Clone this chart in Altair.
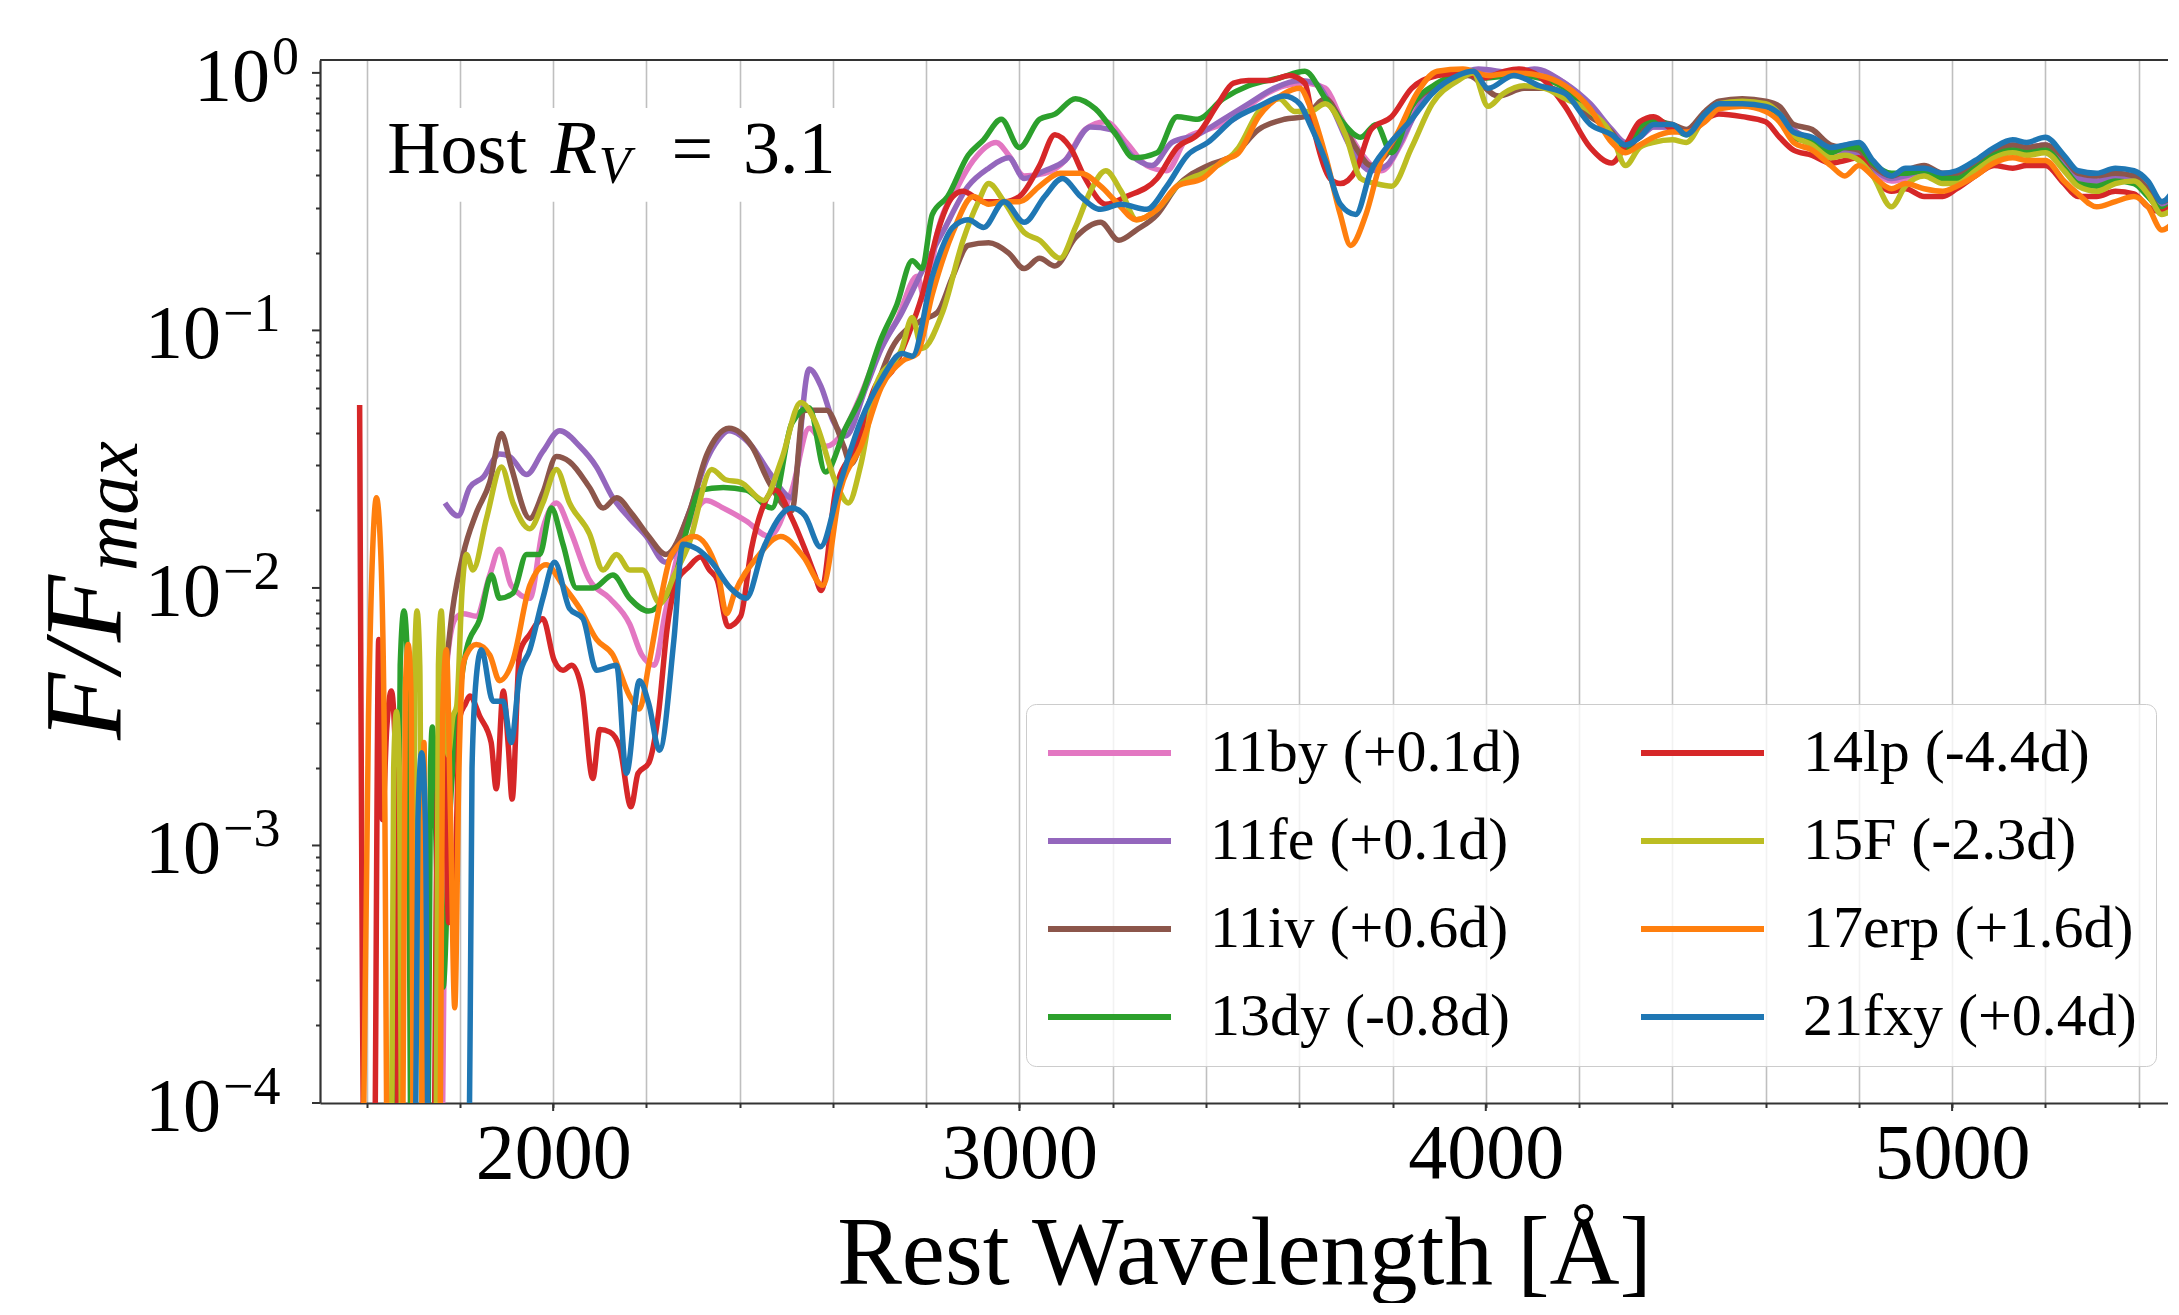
import altair as alt
import pandas as pd

FONT = "Liberation Serif"
SPINE = "#333333"
GRID = "#bfbfbf"

PLOT_W = 1848
PLOT_H = 1043
X_DOMAIN = [1500, 5463]
Y_DOMAIN = [1e-4, 1.122]

# ---------------- legend / series ----------------
# legend fills column by column: first four in the left column
LEGEND_ORDER = ["11by (+0.1d)", "11fe (+0.1d)", "11iv (+0.6d)", "13dy (-0.8d)",
                "14lp (-4.4d)", "15F (-2.3d)", "17erp (+1.6d)", "21fxy (+0.4d)"]
LEGEND_COLORS = ["#e377c2", "#9467bd", "#8c564b", "#2ca02c",
                 "#d62728", "#bcbd22", "#ff7f0e", "#1f77b4"]
DRAW_ORDER = ["11by (+0.1d)", "11fe (+0.1d)", "11iv (+0.6d)", "13dy (-0.8d)",
              "14lp (-4.4d)", "15F (-2.3d)", "17erp (+1.6d)", "21fxy (+0.4d)"]

# ---------------- spectra: [wavelength, log10(F/Fmax)] ----------------
PINK_HEAD = [[1760,-4.6],[1772,-2.30],[1790,-2.12],[1807,-2.10],[1835,-2.11],[1864,-1.95],[1885,-1.85],
    [1910,-1.99],[1950,-2.04],[1978,-1.77],[2007,-1.67],[2035,-1.77],[2078,-1.97],[2121,-2.04],[2164,-2.14],
    [2190,-2.26],[2217,-2.30],[2240,-2.10],[2266,-1.88],[2300,-1.72],[2328,-1.66],[2365,-1.69],[2414,-1.74],
    [2463,-1.80],[2512,-1.62],[2549,-1.38],[2586,-1.45],[2620,-1.40],[2660,-1.25],[2693,-1.10],[2737,-0.96],
    [2781,-0.79],[2797,-0.88],[2824,-0.62],[2868,-0.44],[2901,-0.34],[2950,-0.27],[2977,-0.32],[3010,-0.40],
    [3054,-0.39],[3098,-0.34],[3141,-0.22],[3185,-0.19],[3229,-0.27],[3273,-0.36],[3316,-0.38],[3360,-0.25],
    [3404,-0.22],[3459,-0.18],[3513,-0.10],[3568,-0.05],[3612,-0.04],[3656,-0.06],[3688,-0.17],[3732,-0.31],
    [3776,-0.38],[3820,-0.27],[3863,-0.10],[3929,-0.03],[3984,0.00],[4060,0.005],[4115,0.0],[4170,-0.04],
    [4224,-0.13]]
PURPLE_HEAD = [[1768,-1.67],[1796,-1.72],[1821,-1.61],[1850,-1.57],[1885,-1.48],[1907,-1.49],[1943,-1.56],
    [1978,-1.47],[2014,-1.39],[2057,-1.45],[2093,-1.53],[2128,-1.65],[2164,-1.73],[2200,-1.80],[2241,-1.90],
    [2291,-1.71],[2330,-1.50],[2352,-1.43],[2377,-1.39],[2426,-1.45],[2463,-1.55],[2512,-1.65],[2549,-1.15],
    [2575,-1.22],[2600,-1.35],[2627,-1.41],[2671,-1.22],[2704,-1.07],[2748,-0.93],[2791,-0.77],[2835,-0.62],
    [2890,-0.44],[2934,-0.37],[2977,-0.33],[3010,-0.41],[3054,-0.38],[3098,-0.34],[3152,-0.21],[3196,-0.22],
    [3240,-0.32],[3284,-0.36],[3327,-0.27],[3382,-0.24],[3437,-0.18],[3491,-0.12],[3546,-0.06],[3601,-0.03],
    [3634,-0.04],[3666,-0.12],[3710,-0.29],[3754,-0.38],[3787,-0.36],[3831,-0.22],[3874,-0.08],[3929,-0.02],
    [3984,0.015],[4060,0.0],[4104,0.015],[4170,-0.04],[4224,-0.12]]
BROWN_HEAD = [[1745,-4.6],[1760,-2.60],[1778,-2.18],[1807,-1.87],[1835,-1.71],[1864,-1.59],[1889,-1.40],
    [1910,-1.53],[1950,-1.73],[1978,-1.63],[2007,-1.49],[2035,-1.51],[2078,-1.61],[2107,-1.69],[2136,-1.65],
    [2168,-1.71],[2205,-1.80],[2242,-1.87],[2291,-1.71],[2330,-1.48],[2352,-1.41],[2377,-1.38],[2426,-1.45],
    [2463,-1.59],[2512,-1.70],[2537,-1.31],[2586,-1.31],[2623,-1.45],[2638,-1.52],[2682,-1.28],[2726,-1.07],
    [2791,-0.96],[2824,-0.93],[2857,-0.79],[2890,-0.67],[2934,-0.66],[2977,-0.70],[3010,-0.76],[3043,-0.72],
    [3076,-0.75],[3120,-0.64],[3174,-0.58],[3213,-0.65],[3251,-0.61],[3295,-0.55],[3338,-0.44],[3404,-0.36],
    [3459,-0.32],[3513,-0.22],[3568,-0.18],[3612,-0.17],[3656,-0.10],[3688,-0.18],[3721,-0.29],[3754,-0.36],
    [3798,-0.29],[3841,-0.13],[3896,-0.05],[3962,-0.01],[4027,-0.09],[4082,-0.06],[4137,-0.06],[4224,-0.17]]
GREEN_HEAD = [[1662,-4.6],[1672,-2.30],[1680,-2.09],[1688,-2.30],[1697,-4.6],[1730,-4.6],[1737,-2.70],
    [1741,-2.54],[1752,-3.20],[1764,-3.55],[1778,-2.90],[1800,-2.40],[1814,-2.24],[1843,-2.12],[1868,-1.95],
    [1885,-2.04],[1914,-2.02],[1943,-1.87],[1971,-1.87],[1996,-1.69],[2021,-1.83],[2050,-2.00],[2086,-2.00],
    [2128,-1.95],[2164,-2.04],[2205,-2.09],[2235,-2.05],[2260,-1.97],[2290,-1.75],[2316,-1.62],[2365,-1.61],
    [2414,-1.62],[2469,-1.69],[2512,-1.36],[2549,-1.30],[2584,-1.55],[2627,-1.38],[2660,-1.26],[2704,-1.03],
    [2737,-0.90],[2770,-0.73],[2791,-0.76],[2813,-0.55],[2846,-0.48],[2890,-0.32],[2923,-0.26],[2961,-0.18],
    [3000,-0.29],[3043,-0.18],[3076,-0.16],[3120,-0.10],[3163,-0.14],[3207,-0.24],[3245,-0.33],[3295,-0.31],
    [3338,-0.17],[3382,-0.18],[3437,-0.10],[3491,-0.05],[3557,-0.02],[3612,0.006],[3656,-0.10],[3688,-0.18],
    [3732,-0.25],[3765,-0.20],[3798,-0.31],[3841,-0.13],[3896,-0.04],[3951,0.0],[3995,-0.02],[4060,-0.01],
    [4115,-0.02],[4170,-0.06],[4224,-0.15]]
RED_HEAD = [[1585,-1.29],[1597,-4.6],[1615,-4.6],[1626,-2.20],[1634,-2.90],[1643,-2.55],[1653,-2.40],
    [1661,-2.60],[1669,-4.6],[1742,-4.6],[1752,-2.80],[1765,-2.50],[1776,-3.30],[1788,-3.20],[1800,-2.50],
    [1812,-2.45],[1821,-2.42],[1843,-2.50],[1867,-2.60],[1878,-2.78],[1893,-2.40],[1904,-2.62],[1912,-2.82],
    [1928,-2.25],[1950,-2.18],[1978,-2.12],[2002,-2.28],[2021,-2.32],[2040,-2.30],[2062,-2.40],[2085,-2.74],
    [2100,-2.55],[2122,-2.56],[2143,-2.62],[2167,-2.85],[2182,-2.72],[2205,-2.68],[2225,-2.50],[2245,-2.15],
    [2266,-1.97],[2290,-1.92],[2316,-1.88],[2335,-1.93],[2352,-1.97],[2375,-2.15],[2402,-2.11],[2425,-1.85],
    [2451,-1.68],[2476,-1.62],[2512,-1.73],[2540,-1.85],[2561,-1.95],[2575,-2.01],[2606,-1.62],[2649,-1.45],
    [2693,-1.21],[2726,-1.16],[2759,-1.03],[2792,-0.86],[2824,-0.62],[2857,-0.48],[2879,-0.46],[2923,-0.50],
    [2967,-0.50],[3000,-0.48],[3043,-0.36],[3076,-0.24],[3109,-0.29],[3141,-0.41],[3185,-0.51],[3229,-0.48],
    [3295,-0.41],[3338,-0.29],[3382,-0.24],[3426,-0.12],[3459,-0.04],[3491,-0.03],[3535,-0.03],[3579,-0.01],
    [3612,-0.04],[3634,-0.24],[3666,-0.41],[3688,-0.43],[3721,-0.38],[3754,-0.22],[3798,-0.17],[3841,-0.06],
    [3896,-0.01],[3951,0.0],[3995,-0.02],[4038,0.005],[4071,0.015],[4126,-0.03],[4170,-0.13],[4224,-0.29]]
OLIVE_HEAD = [[1652,-4.6],[1658,-2.70],[1664,-2.48],[1670,-2.70],[1677,-4.6],[1698,-4.6],[1703,-2.30],
    [1708,-2.09],[1714,-2.30],[1721,-4.6],[1748,-4.6],[1754,-2.30],[1760,-2.09],[1767,-2.40],[1775,-2.65],
    [1785,-2.50],[1793,-2.46],[1805,-2.00],[1814,-1.87],[1828,-1.93],[1857,-1.73],[1889,-1.53],[1914,-1.67],
    [1950,-1.77],[1978,-1.67],[2007,-1.54],[2035,-1.67],[2078,-1.79],[2107,-1.93],[2136,-1.87],[2164,-1.93],
    [2192,-1.93],[2229,-2.06],[2260,-1.95],[2291,-1.83],[2340,-1.54],[2370,-1.58],[2402,-1.59],[2451,-1.66],
    [2490,-1.50],[2531,-1.28],[2561,-1.35],[2606,-1.59],[2633,-1.67],[2660,-1.52],[2693,-1.21],[2748,-1.07],
    [2770,-0.95],[2791,-1.07],[2835,-0.93],[2879,-0.65],[2912,-0.50],[2934,-0.43],[2967,-0.50],[3010,-0.62],
    [3043,-0.65],[3087,-0.72],[3120,-0.60],[3152,-0.46],[3185,-0.38],[3218,-0.46],[3251,-0.57],[3295,-0.53],
    [3338,-0.44],[3404,-0.38],[3470,-0.29],[3513,-0.15],[3557,-0.10],[3590,-0.15],[3623,-0.15],[3656,-0.12],
    [3699,-0.24],[3732,-0.41],[3765,-0.43],[3798,-0.44],[3841,-0.29],[3885,-0.12],[3940,-0.03],[3973,0.0],
    [4005,-0.13],[4038,-0.08],[4082,-0.05],[4126,-0.06],[4170,-0.10],[4224,-0.15]]
ORANGE_HEAD = [[1590,-4.6],[1604,-2.50],[1613,-1.85],[1621,-1.65],[1630,-1.85],[1638,-2.60],[1646,-4.6],
    [1676,-4.6],[1683,-2.40],[1689,-2.22],[1695,-2.40],[1702,-4.6],[1716,-4.6],[1723,-2.60],[1730,-4.6],
    [1756,-4.6],[1763,-2.50],[1771,-2.24],[1780,-2.90],[1789,-3.63],[1798,-2.70],[1807,-2.30],[1814,-2.26],
    [1835,-2.22],[1864,-2.26],[1885,-2.36],[1914,-2.28],[1950,-1.99],[1985,-1.91],[2021,-1.99],[2057,-2.08],
    [2093,-2.20],[2128,-2.26],[2164,-2.42],[2185,-2.47],[2205,-2.30],[2230,-2.05],[2254,-1.87],[2303,-1.80],
    [2352,-1.93],[2372,-2.10],[2389,-2.02],[2438,-1.88],[2488,-1.80],[2537,-1.88],[2578,-1.99],[2616,-1.62],
    [2660,-1.45],[2704,-1.22],[2748,-1.12],[2781,-1.09],[2813,-0.86],[2857,-0.62],[2901,-0.48],[2934,-0.51],
    [2967,-0.50],[3000,-0.50],[3043,-0.44],[3087,-0.39],[3131,-0.39],[3174,-0.44],[3207,-0.50],[3251,-0.57],
    [3295,-0.53],[3338,-0.44],[3393,-0.41],[3437,-0.34],[3470,-0.31],[3513,-0.17],[3568,-0.08],[3601,-0.06],
    [3623,-0.13],[3656,-0.32],[3688,-0.55],[3710,-0.67],[3743,-0.55],[3776,-0.34],[3809,-0.24],[3852,-0.08],
    [3896,0.006],[3951,0.015],[4005,-0.01],[4060,0.0],[4115,-0.01],[4170,-0.05],[4224,-0.14]]
BLUE_HEAD = [[1703,-4.6],[1710,-2.90],[1718,-2.64],[1726,-2.90],[1734,-4.6],[1818,-4.6],[1826,-2.70],
    [1835,-2.35],[1846,-2.24],[1871,-2.44],[1893,-2.44],[1910,-2.60],[1928,-2.34],[1950,-2.24],[1978,-2.04],
    [2003,-1.90],[2035,-2.08],[2064,-2.12],[2093,-2.32],[2136,-2.30],[2157,-2.72],[2185,-2.36],[2205,-2.45],
    [2228,-2.63],[2259,-2.20],[2278,-1.83],[2310,-1.85],[2340,-1.90],[2380,-2.00],[2414,-2.04],[2450,-1.85],
    [2512,-1.69],[2540,-1.72],[2573,-1.84],[2616,-1.59],[2660,-1.35],[2704,-1.19],[2748,-1.09],[2770,-1.10],
    [2813,-0.79],[2857,-0.60],[2890,-0.57],[2923,-0.60],[2967,-0.50],[3010,-0.58],[3054,-0.48],[3092,-0.41],
    [3131,-0.48],[3174,-0.53],[3218,-0.51],[3273,-0.53],[3316,-0.44],[3360,-0.32],[3404,-0.27],[3459,-0.18],
    [3513,-0.13],[3568,-0.09],[3601,-0.12],[3623,-0.20],[3656,-0.34],[3688,-0.51],[3721,-0.55],[3754,-0.38],
    [3787,-0.29],[3841,-0.18],[3885,-0.08],[3940,-0.01],[3973,0.006],[4005,-0.06],[4060,-0.01],[4115,-0.05],
    [4170,-0.08],[4224,-0.20]]

# red-side tail: shared wavelengths, per-series log10 values
WL_TAIL = [4270, 4300, 4330, 4360, 4400, 4430, 4470, 4500, 4550, 4600, 4630, 4660, 4700, 4740, 4770,
           4800, 4830, 4870, 4900, 4940, 4980, 5010, 5050, 5090, 5130, 5160, 5200, 5240, 5270, 5310,
           5350, 5390, 5420, 5450, 5480]
PINK_TAIL = [-0.23,-0.28,-0.25,-0.21,-0.21, -0.23,-0.17,-0.13,-0.13,-0.13, -0.16,-0.23,-0.27,-0.31,-0.31,
             -0.32,-0.38,-0.42,-0.41,-0.39, -0.40,-0.40,-0.36,-0.31,-0.29, -0.30,-0.29,-0.36,-0.42,-0.43,
             -0.41,-0.42,-0.47,-0.52,-0.49]
PURPLE_TAIL = [-0.22,-0.27,-0.25,-0.21,-0.21, -0.23,-0.16,-0.12,-0.12,-0.12, -0.15,-0.22,-0.26,-0.30,-0.30,
               -0.32,-0.37,-0.41,-0.40,-0.38, -0.40,-0.39,-0.35,-0.30,-0.28, -0.29,-0.28,-0.35,-0.41,-0.42,
               -0.40,-0.41,-0.46,-0.51,-0.48]
BROWN_TAIL = [-0.23,-0.30,-0.24,-0.19,-0.20, -0.22,-0.15,-0.11,-0.10,-0.11, -0.13,-0.20,-0.22,-0.28,-0.29,
              -0.30,-0.36,-0.40,-0.38,-0.36, -0.39,-0.39,-0.35,-0.31,-0.28, -0.29,-0.28,-0.33,-0.39,-0.40,
              -0.39,-0.40,-0.45,-0.50,-0.47]
GREEN_TAIL = [-0.24,-0.29,-0.21,-0.18,-0.21, -0.24,-0.17,-0.13,-0.12,-0.13, -0.17,-0.25,-0.27,-0.31,-0.29,
              -0.29,-0.35,-0.39,-0.39,-0.38, -0.41,-0.41,-0.37,-0.32,-0.30, -0.31,-0.30,-0.37,-0.43,-0.44,
              -0.42,-0.43,-0.48,-0.53,-0.50]
RED_TAIL = [-0.35,-0.28,-0.19,-0.17,-0.22, -0.23,-0.18,-0.16,-0.17,-0.19, -0.25,-0.30,-0.32,-0.35,-0.34,
            -0.33,-0.40,-0.46,-0.45,-0.48, -0.48,-0.45,-0.40,-0.36,-0.37, -0.36,-0.36,-0.43,-0.48,-0.48,
            -0.46,-0.47,-0.52,-0.54,-0.50]
OLIVE_TAIL = [-0.24,-0.36,-0.29,-0.27,-0.26, -0.27,-0.17,-0.12,-0.11,-0.12, -0.16,-0.24,-0.28,-0.33,-0.32,
              -0.34,-0.40,-0.52,-0.44,-0.40, -0.43,-0.43,-0.38,-0.33,-0.31, -0.32,-0.31,-0.38,-0.44,-0.46,
              -0.43,-0.42,-0.47,-0.55,-0.52]
ORANGE_TAIL = [-0.27,-0.31,-0.28,-0.25,-0.23, -0.23,-0.19,-0.14,-0.13,-0.15, -0.19,-0.27,-0.30,-0.36,-0.40,
               -0.36,-0.40,-0.45,-0.43,-0.45, -0.46,-0.44,-0.40,-0.35,-0.33, -0.34,-0.34,-0.42,-0.47,-0.52,
               -0.50,-0.48,-0.52,-0.61,-0.57]
BLUE_TAIL = [-0.24,-0.28,-0.25,-0.20,-0.20, -0.24,-0.16,-0.12,-0.12,-0.13, -0.16,-0.23,-0.25,-0.29,-0.28,
             -0.27,-0.34,-0.40,-0.37,-0.37, -0.39,-0.38,-0.34,-0.29,-0.26, -0.27,-0.25,-0.32,-0.38,-0.39,
             -0.37,-0.38,-0.42,-0.50,-0.44]

SPECTRA = {
    "11by (+0.1d)": (PINK_HEAD, PINK_TAIL),
    "11fe (+0.1d)": (PURPLE_HEAD, PURPLE_TAIL),
    "11iv (+0.6d)": (BROWN_HEAD, BROWN_TAIL),
    "13dy (-0.8d)": (GREEN_HEAD, GREEN_TAIL),
    "14lp (-4.4d)": (RED_HEAD, RED_TAIL),
    "15F (-2.3d)": (OLIVE_HEAD, OLIVE_TAIL),
    "17erp (+1.6d)": (ORANGE_HEAD, ORANGE_TAIL),
    "21fxy (+0.4d)": (BLUE_HEAD, BLUE_TAIL),
}

# ---------------- ticks ----------------
X_GRID = [1600, 1800, 2000, 2200, 2400, 2600, 2800, 3000, 3200, 3400, 3600, 3800, 4000,
          4200, 4400, 4600, 4800, 5000, 5200, 5400]
X_MAJOR = [2000, 3000, 4000, 5000]
Y_MAJOR = [1.0, 0.1, 0.01, 0.001, 0.0001]
Y_EXP = ["0", "\u22121", "\u22122", "\u22123", "\u22124"]
Y_MINOR = [m * 10.0 ** k for k in (-4, -3, -2, -1) for m in range(2, 10)]

# ---------------- build data ----------------
rows = []
for name, (head, tail) in SPECTRA.items():
    pts = [tuple(p) for p in head] + list(zip(WL_TAIL, tail))
    for wl, lf in pts:
        rows.append({"series": name, "wl": wl, "flux": 10.0 ** lf})
df = pd.DataFrame(rows)

x_scale = alt.Scale(domain=X_DOMAIN, nice=False, zero=False)
y_scale = alt.Scale(type="log", domain=Y_DOMAIN, nice=False)

x_axis = alt.Axis(values=X_GRID, grid=True, gridColor=GRID, gridWidth=1.6,
                  tickSize=4.5, tickWidth=2, tickColor=SPINE,
                  domainColor=SPINE, domainWidth=2.2,
                  format="d", labelExpr="datum.value % 1000 === 0 ? datum.label : ''",
                  labelFont=FONT, labelFontSize=78, labelColor="black",
                  labelBaseline="alphabetic", labelPadding=70, labelFlush=False, labelOverlap=False,
                  title="Rest Wavelength [\u00c5]", titleFont=FONT, titleFontSize=97,
                  titleFontWeight="normal", titleColor="black", titleBaseline="alphabetic", titleY=180)
y_axis = alt.Axis(values=Y_MINOR, labels=False, grid=False, tickSize=4.5, tickWidth=2,
                  tickColor=SPINE, domainColor=SPINE, domainWidth=2.2, title=None)

legend = alt.Legend(orient="none", legendX=706, legendY=644, columns=2, title=None,
                    symbolType="stroke", symbolSize=15129, symbolStrokeWidth=6, clipHeight=60,
                    labelFont=FONT, labelFontSize=60, labelColor="black", labelLimit=1000,
                    labelOffset=36, rowPadding=28, columnPadding=116, padding=19,
                    fillColor="rgba(255,255,255,0.8)", strokeColor="#cccccc", cornerRadius=10)
color = alt.Color("series:N", scale=alt.Scale(domain=LEGEND_ORDER, range=LEGEND_COLORS), legend=legend)

layers = []

# annotation box behind text (drawn first so grid is hidden behind it)
box = pd.DataFrame({"wl": [1620], "wl2": [2632], "flux": [0.731], "flux2": [0.316]})
layers.append(alt.Chart(box).mark_rect(color="white").encode(
    x=alt.X("wl:Q"), x2="wl2:Q", y=alt.Y("flux:Q"), y2="flux2:Q"))

for s in DRAW_ORDER:
    layers.append(alt.Chart(df[df["series"] == s]).mark_line(
        clip=True, strokeWidth=5.5, interpolate="monotone").encode(
        x=alt.X("wl:Q", scale=x_scale, axis=x_axis),
        y=alt.Y("flux:Q", scale=y_scale, axis=y_axis),
        color=color))

# annotation text "Host R_V = 3.1"
ann_norm = pd.DataFrame({"wl": [1644, 2254, 2407], "flux": [0.409, 0.409, 0.409], "t": ["Host", "=", "3.1"]})
layers.append(alt.Chart(ann_norm).mark_text(font=FONT, fontSize=74, align="left", baseline="alphabetic",
                                            color="black").encode(x="wl:Q", y="flux:Q", text="t:N"))
ann_it = pd.DataFrame({"wl": [1995, 2098], "flux": [0.409, 0.374], "t": ["R", "V"], "fs": [76, 52]})
layers.append(alt.Chart(ann_it).mark_text(font=FONT, fontStyle="italic", align="left", baseline="alphabetic",
                                          color="black").encode(
    x="wl:Q", y="flux:Q", text="t:N", size=alt.Size("fs:Q", scale=None)))

# major ticks
xmaj = pd.DataFrame({"wl": X_MAJOR})
layers.append(alt.Chart(xmaj).mark_rule(color=SPINE, strokeWidth=2).encode(
    x="wl:Q", y=alt.value(PLOT_H), y2=alt.value(PLOT_H + 8)))
ymaj = pd.DataFrame({"flux": Y_MAJOR, "exp": Y_EXP, "base": ["10"] * 5})
layers.append(alt.Chart(ymaj).mark_rule(color=SPINE, strokeWidth=2).encode(
    y="flux:Q", x=alt.value(-8), x2=alt.value(0)))

# y tick labels 10^k
layers.append(alt.Chart(ymaj.iloc[:1]).mark_text(font=FONT, fontSize=76, align="right", baseline="alphabetic",
                                                 dy=28, color="black").encode(
    y="flux:Q", x=alt.value(-50), text="base:N"))
layers.append(alt.Chart(ymaj.iloc[1:]).mark_text(font=FONT, fontSize=76, align="right", baseline="alphabetic",
                                                 dy=28, color="black").encode(
    y="flux:Q", x=alt.value(-99), text="base:N"))
layers.append(alt.Chart(ymaj.iloc[:1]).mark_text(font=FONT, fontSize=54, align="left", baseline="alphabetic",
                                                 dy=1, color="black").encode(
    y="flux:Q", x=alt.value(-48), text="exp:N"))
layers.append(alt.Chart(ymaj.iloc[1:]).mark_text(font=FONT, fontSize=54, align="left", baseline="alphabetic",
                                                 dy=1, color="black").encode(
    y="flux:Q", x=alt.value(-97), text="exp:N"))

# y axis title F/F_max
dummy = pd.DataFrame({"a": [0]})
layers.append(alt.Chart(dummy).mark_text(font=FONT, fontStyle="italic", fontSize=110, angle=270,
                                         align="left", baseline="alphabetic", color="black").encode(
    x=alt.value(-200), y=alt.value(680), text=alt.value("F/F")))
layers.append(alt.Chart(dummy).mark_text(font=FONT, fontStyle="italic", fontSize=78, angle=270,
                                         align="left", baseline="alphabetic", color="black").encode(
    x=alt.value(-183), y=alt.value(511), text=alt.value("max")))

# top spine
layers.append(alt.Chart(dummy).mark_rule(color=SPINE, strokeWidth=2.2).encode(
    x=alt.value(0), x2=alt.value(PLOT_W), y=alt.value(0)))

chart = alt.layer(*layers).properties(
    width=PLOT_W, height=PLOT_H,
    autosize=alt.AutoSizeParams(type="none"),
    padding={"left": 312, "top": 52, "right": 0, "bottom": 200},
).configure_view(strokeWidth=0).configure(font=FONT)

chart.save("out.html", embed_options={"renderer": "svg", "actions": False})
